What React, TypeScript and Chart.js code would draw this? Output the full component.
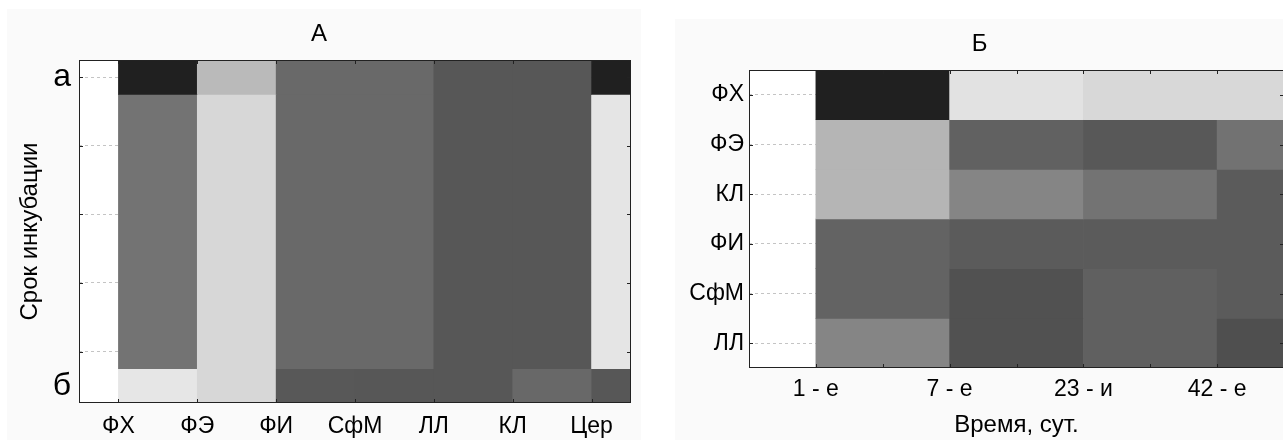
import React, { useEffect, useRef } from 'react';
import { Chart, registerables } from 'chart.js';

Chart.register(...registerables);

const FONT = "'Liberation Sans', Arial, Helvetica, sans-serif";

// ---------- Chart A ----------
const titleA = 'А';
const substancesA = ['ФХ', 'ФЭ', 'ФИ', 'СфМ', 'ЛЛ', 'КЛ', 'Цер'];
const periodTicksA = ['а', 'б'];
const yTitleA = 'Срок инкубации';
// grey level of each cell (0 = black, 255 = white)
const levelsA_a = [32, 186, 105, 105, 87, 87, 32];
const levelsA_mid = [115, 215, 105, 105, 87, 87, 229];
const levelsA_b = [230, 215, 88, 87, 87, 104, 87];

// ---------- Chart B ----------
const titleB = 'Б';
const timesB = ['1 - е', '7 - е', '23 - и', '42 - е'];
const fractionsB = ['ФХ', 'ФЭ', 'КЛ', 'ФИ', 'СфМ', 'ЛЛ'];
const xTitleB = 'Время, сут.';
const levelsB_FX = [32, 226, 216, 216];
const levelsB_FE = [181, 97, 88, 114];
const levelsB_KL = [181, 133, 115, 91];
const levelsB_FI = [99, 91, 91, 91];
const levelsB_SfM = [99, 81, 96, 91];
const levelsB_LL = [133, 81, 96, 79];

const grey = (g: number) => `rgb(${g},${g},${g})`;
const GRID = '#c4c4c4';
const TICK_SIZE = 23;
const TITLE_SIZE = 24;

const framePlugin = {
  id: 'frame',
  beforeDraw(chart: any) {
    const { ctx, chartArea: a } = chart;
    ctx.save();
    ctx.fillStyle = '#ffffff';
    ctx.fillRect(a.left, a.top, a.right - a.left, a.bottom - a.top);
    ctx.restore();
  },
  afterDatasetsDraw(chart: any, _args: any, opts: any) {
    const { ctx, chartArea: a, scales } = chart;
    const L = 4;
    ctx.save();
    ctx.strokeStyle = '#222';
    ctx.lineWidth = 1;
    ctx.beginPath();
    for (const v of opts.xMarks || []) {
      const px = Math.round(scales.x.getPixelForValue(v)) + 0.5;
      ctx.moveTo(px, a.top);
      ctx.lineTo(px, a.top + L);
      ctx.moveTo(px, a.bottom);
      ctx.lineTo(px, a.bottom - L);
    }
    for (const v of opts.yMarks || []) {
      const py = Math.round(scales.y.getPixelForValue(v)) + 0.5;
      ctx.moveTo(a.left, py);
      ctx.lineTo(a.left + L, py);
      ctx.moveTo(a.right, py);
      ctx.lineTo(a.right - L, py);
    }
    ctx.stroke();
    ctx.strokeRect(
      Math.round(a.left) + 0.5,
      Math.round(a.top) + 0.5,
      Math.round(a.right - a.left) - 1,
      Math.round(a.bottom - a.top) - 1
    );
    ctx.restore();
  },
};

const barCommon = {
  grouped: false,
  barPercentage: 1,
  categoryPercentage: 1,
  borderWidth: 0,
};

function configA(): any {
  const bands = [
    { levels: levelsA_a, from: 0, to: 0.5 },
    { levels: levelsA_mid, from: 0.5, to: 4.5 },
    { levels: levelsA_b, from: 4.5, to: 5 },
  ];
  const yTickVals = [0.25, 1.25, 2.25, 3.25, 4.25, 4.75];
  return {
    type: 'bar',
    data: {
      datasets: bands.map((b) => ({
        ...barCommon,
        data: substancesA.map((_, i) => ({ x: i + 0.5, y: [b.from, b.to] })),
        backgroundColor: b.levels.map(grey),
      })),
    },
    options: {
      responsive: false,
      animation: false,
      layout: { padding: { right: 10 } },
      plugins: {
        legend: { display: false },
        tooltip: { enabled: false },
        title: {
          display: true,
          text: titleA,
          color: '#000',
          font: { size: TITLE_SIZE, weight: 'normal', family: FONT },
          padding: { top: 11, bottom: 11.2 },
        },
        frame: { xMarks: substancesA.map((_, i) => i), yMarks: [0.25, 1.25, 2.25, 3.25, 4.25] },
      },
      scales: {
        x: {
          type: 'linear',
          offset: false,
          min: -0.5,
          max: 6.5,
          afterBuildTicks: (s: any) => {
            s.ticks = substancesA.map((_, i) => ({ value: i }));
          },
          afterFit: (s: any) => {
            s.height = 37;
          },
          ticks: {
            autoSkip: false,
            maxRotation: 0,
            padding: 10,
            color: '#000',
            font: { size: TICK_SIZE, family: FONT },
            callback: (v: any) => substancesA[v] ?? '',
          },
          grid: { display: false, drawTicks: false, offset: false },
          border: { display: false },
        },
        y: {
          type: 'linear',
          offset: false,
          reverse: true,
          min: 0,
          max: 5,
          afterBuildTicks: (s: any) => {
            s.ticks = yTickVals.map((v) => ({ value: v }));
          },
          afterFit: (s: any) => {
            s.width = 72;
          },
          ticks: {
            autoSkip: false,
            padding: 8,
            color: '#000',
            font: { size: 32, family: FONT },
            callback: (v: any) => (v === 0.25 ? periodTicksA[0] : v === 4.75 ? periodTicksA[1] : ''),
          },
          grid: {
            drawTicks: false,
            lineWidth: 1,
            color: (c: any) => (c.tick && c.tick.value === 4.75 ? 'rgba(0,0,0,0)' : GRID),
          },
          border: { display: false, dash: [3, 3] },
          title: {
            display: true,
            text: yTitleA,
            color: '#000',
            font: { size: TITLE_SIZE, family: FONT },
            padding: { top: 9, bottom: 0 },
          },
        },
      },
    },
    plugins: [framePlugin],
  };
}

function configB(): any {
  const levelsB = [levelsB_FX, levelsB_FE, levelsB_KL, levelsB_FI, levelsB_SfM, levelsB_LL];
  return {
    type: 'bar',
    data: {
      datasets: fractionsB.map((f, r) => ({
        ...barCommon,
        label: f,
        data: timesB.map((_, c) => ({ x: c + 0.5, y: [r - 0.5, r + 0.5] })),
        backgroundColor: levelsB[r].map(grey),
      })),
    },
    options: {
      responsive: false,
      animation: false,
      layout: { padding: { right: 11 } },
      plugins: {
        legend: { display: false },
        tooltip: { enabled: false },
        title: {
          display: true,
          text: titleB,
          color: '#000',
          font: { size: TITLE_SIZE, weight: 'normal', family: FONT },
          padding: { top: 11, bottom: 11.2 },
        },
        frame: {
          xMarks: [0, 0.5, 1, 1.5, 2, 2.5, 3],
          yMarks: fractionsB.map((_, i) => i),
        },
      },
      scales: {
        x: {
          type: 'linear',
          offset: false,
          min: -0.5,
          max: 3.5,
          afterBuildTicks: (s: any) => {
            s.ticks = timesB.map((_, i) => ({ value: i }));
          },
          afterFit: (s: any) => {
            s.height = 72;
          },
          ticks: {
            autoSkip: false,
            maxRotation: 0,
            padding: 8,
            color: '#000',
            font: { size: TICK_SIZE, family: FONT },
            callback: (v: any) => timesB[v] ?? '',
          },
          grid: { display: false, drawTicks: false, offset: false },
          border: { display: false },
          title: {
            display: true,
            text: xTitleB,
            color: '#000',
            font: { size: TITLE_SIZE, family: FONT },
            padding: { top: 0, bottom: 0 },
          },
        },
        y: {
          type: 'linear',
          offset: false,
          reverse: true,
          min: -0.5,
          max: 5.5,
          afterBuildTicks: (s: any) => {
            s.ticks = fractionsB.map((_, i) => ({ value: i }));
          },
          afterFit: (s: any) => {
            s.width = 74;
          },
          ticks: {
            autoSkip: false,
            padding: 5,
            color: '#000',
            font: { size: TICK_SIZE, family: FONT },
            callback: (v: any) => fractionsB[v] ?? '',
          },
          grid: { drawTicks: false, lineWidth: 1, color: GRID },
          border: { display: false, dash: [3, 3] },
        },
      },
    },
    plugins: [framePlugin],
  };
}

export default function App() {
  const refA = useRef<HTMLCanvasElement>(null);
  const refB = useRef<HTMLCanvasElement>(null);

  useEffect(() => {
    Chart.defaults.font.family = FONT;
    Chart.defaults.color = '#000';
    const a = new Chart(refA.current as HTMLCanvasElement, configA());
    const b = new Chart(refB.current as HTMLCanvasElement, configB());
    return () => {
      a.destroy();
      b.destroy();
    };
  }, []);

  return (
    <div
      style={{
        position: 'fixed',
        left: 0,
        top: 0,
        width: 1283,
        height: 440,
        overflow: 'hidden',
        background: '#ffffff',
      }}
    >
      <canvas
        ref={refA}
        width={634}
        height={431}
        style={{ position: 'absolute', left: 7, top: 9, background: '#fafafa', display: 'block' }}
      />
      <canvas
        ref={refB}
        width={620}
        height={421}
        style={{ position: 'absolute', left: 675, top: 19, background: '#fafafa', display: 'block' }}
      />
    </div>
  );
}
